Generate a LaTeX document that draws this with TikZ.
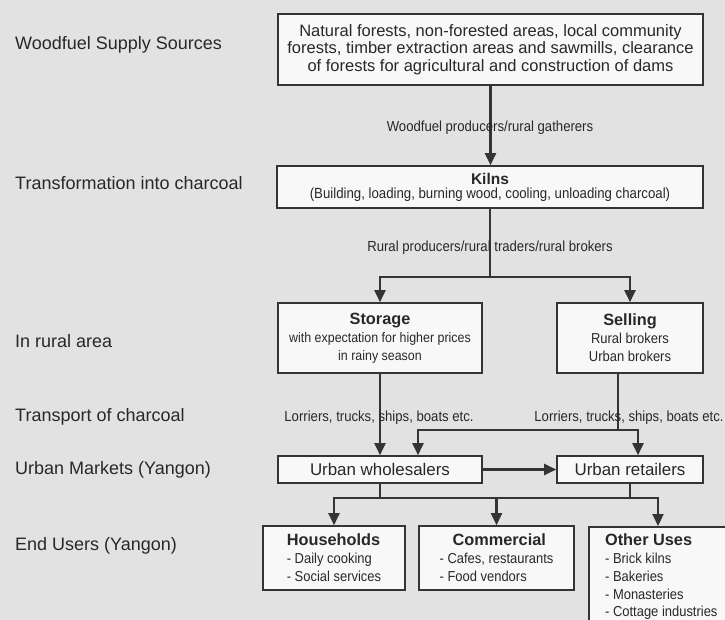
\documentclass[tikz,border=0pt]{standalone}
\usepackage{fontspec}
\setmainfont{Liberation Sans}
\newfontfamily\narrowfont[FakeStretch=0.9]{Liberation Sans}
\usetikzlibrary{arrows.meta}
\definecolor{bgc}{RGB}{226,226,226}
\definecolor{boxc}{RGB}{248,248,248}
\definecolor{ink}{RGB}{40,40,40}
\definecolor{linec}{RGB}{52,52,52}
\newcommand{\hdfont}{\bfseries\fontsize{16.3}{18}\selectfont}
\newcommand{\nrwfont}{\narrowfont\fontsize{14.4}{18}\selectfont}
\tikzset{
  box/.style={draw=linec, line width=1.6pt, fill=boxc, text=ink, inner sep=0pt, align=center},
  conn/.style={draw=linec, line width=2.2pt},
  arr/.style={conn, -{Triangle[width=11pt,length=12pt]}},
  rowlabel/.style={anchor=base west, text=ink, font=\fontsize{18}{20}\selectfont, inner sep=0pt},
  flowlabel/.style={text=ink, font=\narrowfont\fontsize{14.6}{16}\selectfont, inner sep=0pt},
}
\begin{document}
\begin{tikzpicture}[x=1pt,y=-1pt]
\fill[bgc] (0,0) rectangle (725,620);
\useasboundingbox (0,0) rectangle (725,620);
\clip (0,0) rectangle (725,620);

% row labels
\node[rowlabel] (r1) at (15,50) {Woodfuel Supply Sources};
\node[rowlabel] (r2) at (15,190) {Transformation into charcoal};
\node[rowlabel] (r3) at (15,347) {In rural area};
\node[rowlabel] (r4) at (15,421) {Transport of charcoal};
\node[rowlabel] (r5) at (15,474.5) {Urban Markets (Yangon)};
\node[rowlabel] (r6) at (15,550.5) {End Users (Yangon)};

% boxes
\node[box, minimum width=425, minimum height=71, font=\fontsize{16.5}{17.5}\selectfont] (src) at (490.5,49.5)
  {Natural forests, non-forested areas, local community\\forests, timber extraction areas and sawmills, clearance\\of forests for agricultural and construction of dams};
\node[box, minimum width=426, minimum height=42, font=\fontsize{14.7}{14}\selectfont] (kiln) at (490,187)
  {{\bfseries\fontsize{15.5}{14}\selectfont Kilns}\\{\narrowfont (Building, loading, burning wood, cooling, unloading charcoal)}};
\node[box, minimum width=204, minimum height=70, font=\fontsize{14}{18}\selectfont] (storage) at (380,338)
  {{\hdfont Storage}\\{\narrowfont\fontsize{13.8}{18}\selectfont with expectation for higher prices}\\{\narrowfont\fontsize{13.8}{18}\selectfont in rainy season}};
\node[box, minimum width=146, minimum height=70, font=\fontsize{14}{18}\selectfont] (selling) at (630,338)
  {{\hdfont Selling}\\{\nrwfont Rural brokers}\\{\nrwfont Urban brokers}};
\node[box, minimum width=204, minimum height=27, font=\fontsize{16.9}{18}\selectfont] (whole) at (380,469.5) {Urban wholesalers};
\node[box, minimum width=146, minimum height=27, font=\fontsize{16.9}{18}\selectfont] (retail) at (630,469.5) {Urban retailers};
\node[box, align=left, minimum width=142, minimum height=64, font=\fontsize{14}{18}\selectfont] (house) at (334,558)
  {{\hdfont Households}\\{\nrwfont - Daily cooking}\\{\nrwfont - Social services}};
\node[box, align=left, minimum width=155, minimum height=64, font=\fontsize{14}{18}\selectfont] (comm) at (496.5,558)
  {\hspace*{13pt}{\hdfont Commercial}\\{\nrwfont - Cafes, restaurants}\\{\nrwfont - Food vendors}};
\node[box, align=left, anchor=north west, minimum width=145, minimum height=100, font=\fontsize{14}{17.8}\selectfont] (other) at (588,526)
  {{\hdfont Other Uses}\\{\nrwfont - Brick kilns}\\{\nrwfont - Bakeries}\\{\nrwfont - Monasteries}\\{\nrwfont - Cottage industries}};

% connectors
\draw[arr] (src.south) -- (src.south |- kiln.north);
\node[flowlabel] (lab1) at (490,128) {Woodfuel producers/rural gatherers};

\coordinate (b1) at (490,277);
\draw[conn] (kiln.south) -- (b1);
\draw[arr] (b1) -| (storage.north);
\draw[arr] (b1) -| (selling.north);
\node[flowlabel] (lab2) at (490,248) {Rural producers/rural traders/rural brokers};

\draw[arr] (storage.south) -- (whole.north);
\node[flowlabel] (lab3) at (379,418) {Lorriers, trucks, ships, boats etc.};

\coordinate (b2) at (618,430);
\draw[conn] (selling.south -| b2) -- (b2);
\draw[arr] (b2) -| ([xshift=38pt]whole.north);
\draw[arr] (b2) -| ([xshift=8pt]retail.north);
\node[flowlabel] (lab4) at (629,418) {Lorriers, trucks, ships, boats etc.};

\draw[arr] (whole.east) -- (retail.west);

\coordinate (b3) at (380,498);
\coordinate (b4) at (630,498);
\draw[conn] (whole.south) -- (b3);
\draw[conn] (retail.south) -- (b4);
\draw[conn] (b3) -- (b4);
\draw[arr] (b3) -| (house.north);
\draw[arr] (comm.north |- b3) -- (comm.north);
\draw[arr] (b4) -| ([xshift=70pt]other.north west);
\end{tikzpicture}
\end{document}
